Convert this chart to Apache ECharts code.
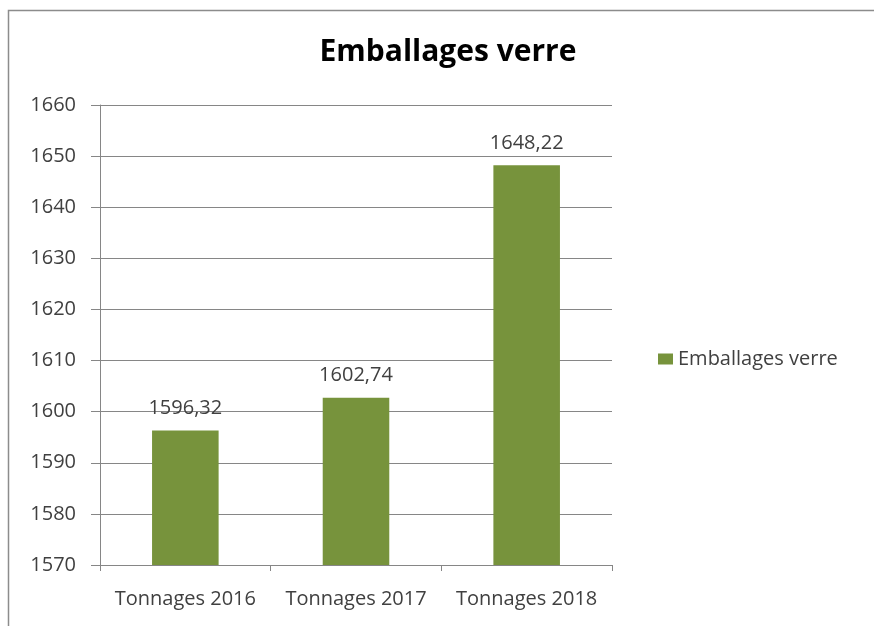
<!DOCTYPE html>
<html lang="fr">
<head>
  <meta charset="UTF-8">
  <title>Emballages verre</title>
  <script src="https://cdn.jsdelivr.net/npm/echarts@6/dist/echarts.min.js"></script>
  <style type="text/css">
    html, body { margin: 0; padding: 0; background: #ffffff; }
    #chart { width: 874px; height: 626px; }
  </style>
</head>
<body>
<div id="chart"></div>
<script type="text/javascript">
// donnees
var seriesName = 'Emballages verre';
var categories = ['Tonnages 2016', 'Tonnages 2017', 'Tonnages 2018'];
var values = [1596.32, 1602.74, 1648.22];

var myChart = echarts.init(document.getElementById('chart'));
var gray = '#868686';
var txt = '#404040';
var font = '"Open Sans", "DejaVu Sans", sans-serif';

var option = {
  backgroundColor: '#ffffff',
  animation: false,
  title: {
    text: seriesName,
    left: 443,
    textAlign: 'center',
    top: 32,
    textStyle: { fontFamily: font, fontSize: 30, fontWeight: 'bold', color: '#000000' }
  },
  legend: {
    data: [seriesName],
    left: 653,
    top: 344,
    itemWidth: 15,
    itemHeight: 11,
    itemGap: 6,
    icon: 'rect',
    textStyle: { fontFamily: font, fontSize: 20, color: txt }
  },
  grid: { left: 100, right: 262, top: 105, bottom: 61 },
  graphic: [{
    type: 'polyline',
    shape: { points: [[8.5, 640], [8.5, 10.5], [880, 10.5]] },
    style: { stroke: '#8c8c8c', fill: null, lineWidth: 1.5 },
    silent: true
  }],
  xAxis: {
    type: 'category',
    data: categories,
    axisLine: { lineStyle: { color: gray, width: 1 } },
    axisTick: { show: true, interval: 0, length: 6, lineStyle: { color: gray } },
    axisLabel: { interval: 0, fontFamily: font, fontSize: 20, color: txt, margin: 24 }
  },
  yAxis: {
    type: 'value',
    min: 1570,
    max: 1660,
    interval: 10,
    axisLine: { show: true, lineStyle: { color: gray, width: 1 } },
    axisTick: { show: true, length: 9, lineStyle: { color: gray } },
    axisLabel: { fontFamily: font, fontSize: 20, color: txt, margin: 24, formatter: function (v) { return String(v); } },
    splitLine: { lineStyle: { color: gray, width: 1 } }
  },
  series: [{
    name: seriesName,
    type: 'bar',
    data: values,
    barWidth: '39%',
    itemStyle: { color: '#77933c' },
    label: {
      show: true,
      position: 'top',
      distance: 12,
      fontFamily: font,
      fontSize: 20,
      color: txt,
      formatter: function (p) { return p.value.toFixed(2).replace('.', ','); }
    }
  }]
};
myChart.setOption(option);
</script>
</body>
</html>
